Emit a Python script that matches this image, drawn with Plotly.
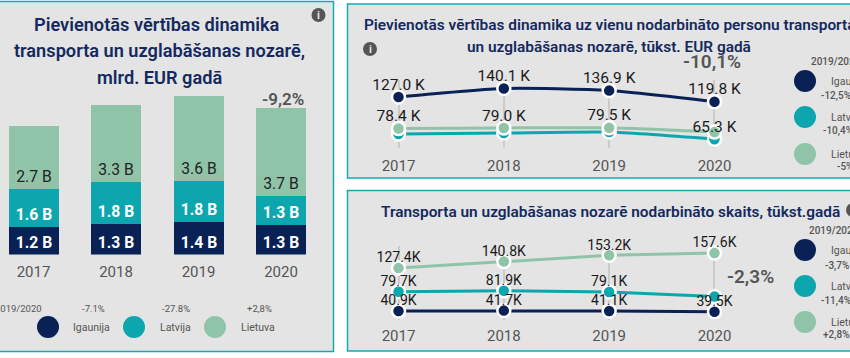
import plotly.graph_objects as go

W, H = 850, 358
years = [2017, 2018, 2019, 2020]

# Value added, bn EUR
va_ee = [1.19, 1.30, 1.37, 1.28]
va_lv = [1.60, 1.79, 1.77, 1.24]
va_lt = [2.69, 3.29, 3.64, 3.74]
va_ee_lbl = ["1.2 B", "1.3 B", "1.4 B", "1.3 B"]
va_lv_lbl = ["1.6 B", "1.8 B", "1.8 B", "1.3 B"]
va_lt_lbl = ["2.7 B", "3.3 B", "3.6 B", "3.7 B"]

# Value added per employee, thousand EUR
pe_ee = [127.0, 140.1, 136.9, 119.8]
pe_lv = [70.0, 71.5, 73.0, 62.0]
pe_lt = [78.4, 79.4, 79.5, 73.0]
pe_ee_lbl = ["127.0 K", "140.1 K", "136.9 K", "119.8 K"]
pe_lv_lbl = ["", "", "", "65.3 K"]
pe_lt_lbl = ["78.4 K", "79.0 K", "79.5 K", ""]

# Employees, thousand
em_ee = [40.9, 41.7, 41.1, 39.5]
em_lv = [79.7, 81.9, 79.1, 70.0]
em_lt = [127.4, 140.8, 153.2, 157.6]
em_ee_lbl = ["40.9K", "41.7K", "41.1K", "39.5K"]
em_lv_lbl = ["79.7K", "81.9K", "79.1K", ""]
em_lt_lbl = ["127.4K", "140.8K", "153.2K", "157.6K"]

NAVY, TEAL, GREEN = "#0A2156", "#0DA6AF", "#8FC4A8"
PANEL, BORDER = "#E4E4E4", "#14AAB4"
TITLE, GREY = "#14295F", "#555555"
FONT = "Roboto"


def px(x):
    return x / W


def py(y):
    return 1 - y / H


fig = go.Figure()
shapes, notes = [], []


def text(x, y, s, size=10, color=GREY, weight=400, anchor="center"):
    notes.append(dict(
        xref="paper", yref="paper", x=px(x), y=py(y), text=s,
        showarrow=False, xanchor=anchor, yanchor="middle",
        font=dict(family=FONT, size=size, color=color, weight=weight), align="center",
        borderpad=0,
    ))


def disc(x, y, r, color, layer="above"):
    shapes.append(dict(type="circle", xref="paper", yref="paper", layer=layer,
                       x0=px(x - r), x1=px(x + r), y0=py(y + r), y1=py(y - r),
                       fillcolor=color, line=dict(width=0)))


def panel(x0, y0, x1, y1):
    shapes.append(dict(type="rect", xref="paper", yref="paper", layer="below",
                       x0=px(x0), x1=px(x1), y0=py(y1), y1=py(y0),
                       fillcolor=PANEL, line=dict(color=BORDER, width=1.5)))


def info(x, y):
    disc(x, y, 7, "#555555")
    text(x, y, "i", size=11, color="#E4E4E4", weight=700)


panel(-6, 1.5, 333.5, 351.5)
panel(347.5, 4, 860, 178)
panel(347.5, 190.5, 860, 351)

# Bars
for vals, lbl, col, tc, wt in [
    (va_ee, va_ee_lbl, NAVY, "white", 700),
    (va_lv, va_lv_lbl, TEAL, "white", 700),
    (va_lt, va_lt_lbl, GREEN, "#222222", 400),
]:
    fig.add_trace(go.Bar(
        x=years, y=vals, width=0.606, marker=dict(color=col, line=dict(width=0)),
        text=lbl, textposition="inside",
        insidetextanchor="start", textangle=0, constraintext="none",
        insidetextfont=dict(family=FONT, size=15.7, color=tc, weight=wt),
        xaxis="x", yaxis="y", showlegend=False,
    ))


def lines(series, xa, ya, smooth):
    for vals, col in series:
        line = dict(color=col, width=3)
        if smooth:
            line.update(shape="spline", smoothing=0.6)
        fig.add_trace(go.Scatter(
            x=years, y=vals, mode="lines+markers", line=line,
            marker=dict(size=13, color=col, line=dict(color="white", width=2.5)),
            xaxis=xa, yaxis=ya, showlegend=False, cliponaxis=False,
        ))


def labels(series, xa, ya, tsize, lift):
    for vals, lbl in series:
        fig.add_trace(go.Scatter(
            x=years, y=vals, mode="markers+text", text=lbl, textposition="top center",
            marker=dict(size=lift, opacity=0),
            textfont=dict(family=FONT, size=tsize, color="#1A1A1A"),
            xaxis=xa, yaxis=ya, showlegend=False, cliponaxis=False,
        ))


lines([(pe_ee, NAVY), (pe_lv, TEAL), (pe_lt, GREEN)], "x2", "y2", True)
labels([(pe_ee, pe_ee_lbl), (pe_lv, pe_lv_lbl), (pe_lt, pe_lt_lbl)], "x2", "y2", 15.5, 4)
lines([(em_ee, NAVY), (em_lv, TEAL), (em_lt, GREEN)], "x3", "y3", False)
labels([(em_ee, em_ee_lbl), (em_lv, em_lv_lbl), (em_lt, em_lt_lbl)], "x3", "y3", 14, 2)


def xaxis(dom, rng, ticklen, grid, anchor):
    return dict(domain=[px(dom[0]), px(dom[1])], range=rng, tickvals=years, ticktext=[str(v) for v in years],
                tickfont=dict(family=FONT, size=15, color=GREY), showgrid=grid, gridcolor="#CBCBCB", gridwidth=1.5,
                zeroline=False, showline=False, ticks="outside", ticklen=ticklen, tickcolor="rgba(0,0,0,0)",
                anchor=anchor)


def yaxis(top, bottom, rng):
    return dict(domain=[py(bottom), py(top)], range=rng, visible=False, fixedrange=True)


# Titles
T = 600
text(157, 24.5, "Pievienotās vērtības dinamika", 18.2, TITLE, T)
text(159, 51, "transporta un uzglabāšanas nozarē,", 18.2, TITLE, T)
text(159, 77, "mlrd. EUR gadā", 18.2, TITLE, T)
text(609, 25, "Pievienotās vērtības dinamika uz vienu nodarbināto personu transporta", 15.4, TITLE, T)
text(609, 47, "un uzglabāšanas nozarē, tūkst. EUR gadā", 15.4, TITLE, T)
text(610, 212, "Transporta un uzglabāšanas nozarē nodarbināto skaits, tūkst.gadā", 15.4, TITLE, T)

info(318.5, 15)
info(370, 49)
info(853, 210)

text(283, 99, "-9,2%", 17, GREY, 600)
text(712, 62, "-10,1%", 19, GREY, 600)
text(750.5, 276, "-2,3%", 19, GREY, 600)

# Legend, left panel
text(43, 308.5, "2019/2020", 9.5, GREY, anchor="right")
for cx, lx, name, pct, col in [
    (48, 91, "Igaunija", "-7.1%", NAVY),
    (134, 175, "Latvija", "-27.8%", TEAL),
    (215, 258, "Lietuva", "+2,8%", GREEN),
]:
    disc(cx, 327, 11, col)
    text(lx, 327, name, 10.5, GREY)
    text(lx + (2 if name == "Igaunija" else 1), 308.5, pct, 9.5, GREY)

# Legends, right panels
text(810, 62, "2019/2020", 10, GREY, 500, anchor="left")
for cy, name, ty, pct, tx, col in [
    (81, "Igaunija", 96.5, "-12,5%", 820, NAVY),
    (117, "Latvija", 131, "-10,4%", 822, TEAL),
    (154, "Lietuva", 167, "-5%", 836, GREEN),
]:
    disc(805, cy, 11, col)
    text(830, cy, name, 10.5, GREY, anchor="left")
    text(tx, ty, pct, 10, GREY, 500, anchor="left")

text(808, 231, "2019/2020", 10, GREY, 500, anchor="left")
for cy, name, ty, pct, tx, col in [
    (250, "Igaunija", 266, "-3,7%", 824, NAVY),
    (286, "Latvija", 301, "-11,4%", 820, TEAL),
    (322, "Lietuva", 335, "+2,8%", 822, GREEN),
]:
    disc(805, cy, 11, col)
    text(830, cy, name, 10.5, GREY, anchor="left")
    text(tx, ty, pct, 10, GREY, 500, anchor="left")

fig.update_layout(
    width=W, height=H, margin=dict(l=0, r=0, t=0, b=0), autosize=False,
    paper_bgcolor="white", plot_bgcolor="rgba(0,0,0,0)", barmode="stack", bargap=0,
    font=dict(family=FONT), shapes=shapes, annotations=notes,
    xaxis=xaxis((0, 333), [2016.594, 2020.63], 3, False, "y"),
    yaxis=dict(domain=[py(254.5), py(85)], range=[0, 169.5 / 23.4], visible=False, fixedrange=True),
    xaxis2=xaxis((347, 770), [2016.511, 2020.527], 4, True, "y2"),
    yaxis2=yaxis(80, 148, [48.5, 153.2]),
    xaxis3=xaxis((347, 770), [2016.511, 2020.527], 2, True, "y3"),
    yaxis3=yaxis(246, 320, [22.8, 171.9]),
)
fig.write_html("out.html", config={"displayModeBar": False},
               post_script="document.body.style.margin='0';document.body.style.overflow='hidden';")
